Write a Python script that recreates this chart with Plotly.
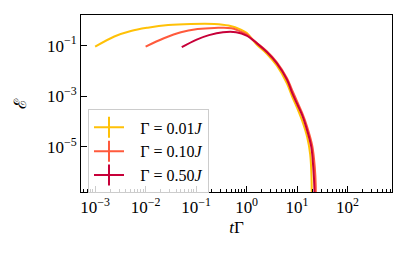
import plotly.graph_objects as go

# ---- data ----
labels = ["Γ\u00a0= 0.01<i>J</i>", "Γ\u00a0= 0.10<i>J</i>", "Γ\u00a0= 0.50<i>J</i>"]
colors = ["#ffc107", "#ff5a3c", "#c70039"]

t_001 = [0.001, 0.0024, 0.0051, 0.011, 0.028, 0.079, 0.23, 0.44, 0.79, 1.0, 1.58, 2.51,
         3.98, 6.31, 7.94, 10.0, 12.6, 15.8, 18.2, 19.3, 19.5]
e_001 = [0.091, 0.23, 0.38, 0.51, 0.65, 0.72, 0.72, 0.62, 0.42, 0.32, 0.11, 0.048,
         0.016, 3.2e-3, 1.0e-3, 3.5e-4, 1.1e-4, 2.5e-5, 5e-6, 6.3e-7, 1e-9]

t_010 = [0.01, 0.023, 0.05, 0.107, 0.23, 0.5, 0.91, 1.0, 1.58, 2.51, 3.98, 6.31, 7.94,
         10.0, 12.6, 15.8, 20.0, 22.4, 23.4, 23.5]
e_010 = [0.091, 0.195, 0.34, 0.45, 0.50, 0.49, 0.31, 0.28, 0.13, 0.06, 0.022, 5.2e-3,
         1.8e-3, 6.3e-4, 2.2e-4, 6.3e-5, 1.1e-5, 1.6e-6, 3e-7, 1e-9]

t_050 = [0.052, 0.1, 0.18, 0.34, 0.62, 1.0, 1.58, 2.51, 3.98, 6.31, 7.94, 10.0, 12.6,
         15.8, 19.1, 20.9, 22.1, 22.2]
e_050 = [0.087, 0.17, 0.26, 0.34, 0.34, 0.25, 0.126, 0.056, 0.02, 4.5e-3, 1.4e-3, 5e-4,
         1.8e-4, 4.5e-5, 1e-5, 1.6e-6, 2e-7, 1e-9]

x_tickvals = [1e-3, 1e-2, 1e-1, 1, 10, 100]
x_ticktext = ["10<sup>−3</sup>", "10<sup>−2</sup>", "10<sup>−1</sup>", "10<sup>0</sup>",
              "10<sup>1</sup>", "10<sup>2</sup>"]
y_tickvals = [1e-1, 1e-3, 1e-5]
y_ticktext = ["10<sup>−1</sup>", "10<sup>−3</sup>", "10<sup>−5</sup>"]

series = [(t_001, e_001), (t_010, e_010), (t_050, e_050)]

FONT = "Liberation Serif"

fig = go.Figure()
for (t, e), c in zip(series, colors):
    fig.add_trace(go.Scatter(x=t, y=e, mode="lines", line=dict(color=c, width=2),
                             line_shape="spline", showlegend=False))
# legend-only entries with an errorbar-like glyph
for lab, c in zip(labels, colors):
    fig.add_trace(go.Scatter(x=[None], y=[None], mode="lines+markers",
                             name="\u2002\u2009" + lab,
                             line=dict(color=c, width=2),
                             marker=dict(symbol="line-ns", size=15, color=c,
                                         line=dict(width=2, color=c))))

fig.update_layout(
    width=408, height=253,
    margin=dict(l=81, r=16, t=15, b=61),
    paper_bgcolor="white", plot_bgcolor="white",
    font=dict(family=FONT, size=17, color="black"),
    legend=dict(x=0.0225, y=0.229, xanchor="left", yanchor="middle",
                bordercolor="#cccccc", borderwidth=1, bgcolor="rgba(255,255,255,0.8)",
                font=dict(family=FONT, size=16), itemwidth=30, tracegroupgap=0),
)
fig.update_xaxes(type="log", range=[-3.28, 2.88], showgrid=False, zeroline=False,
                 automargin=False,
                 showline=True, linecolor="black", linewidth=1, mirror=True,
                 ticks="inside", ticklen=6, tickcolor="black",
                 tickvals=x_tickvals, ticktext=x_ticktext,
                 minor=dict(ticks="inside", ticklen=3, dtick="D1", tickcolor="black",
                            showgrid=False),
                 title=dict(text="<i>t</i>Γ", font=dict(family=FONT, size=17), standoff=4))
fig.update_yaxes(type="log", range=[-6.78, 0.21], showgrid=False, zeroline=False,
                 automargin=False,
                 showline=True, linecolor="black", linewidth=1, mirror=True,
                 ticks="inside", ticklen=6, tickcolor="black",
                 tickvals=y_tickvals, ticktext=y_ticktext,
                 title=dict(text="ℰ", font=dict(family=FONT, size=17), standoff=15))

fig.write_html("out.html", config={"displayModeBar": False},
               post_script="document.body.style.margin='0';")
